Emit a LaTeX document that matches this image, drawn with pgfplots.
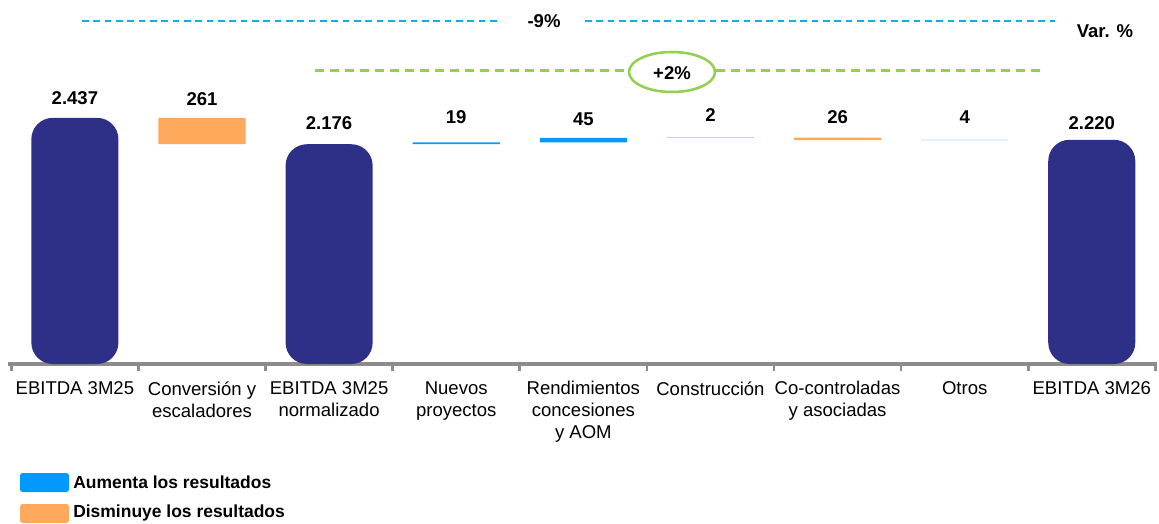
\documentclass[border=0pt]{standalone}
\usepackage{pgfplots}
\pgfplotsset{compat=1.18}
\usepackage{fontspec}
\setmainfont{Liberation Sans}
\definecolor{navy}{RGB}{46,48,135}
\definecolor{orng}{RGB}{255,169,92}
\definecolor{blu}{RGB}{0,153,255}
\definecolor{cyn}{RGB}{0,176,240}
\definecolor{grn}{RGB}{146,208,80}
\definecolor{axgray}{RGB}{140,140,140}
\begin{document}
\begin{tikzpicture}
\useasboundingbox (0pt,0pt) rectangle (869.25pt,-393pt);
% main axis: totals
\begin{axis}[
  at={(8.5pt,-273pt)}, anchor=south west,
  width=858pt, height=273pt, scale only axis,
  xmin=-0.5, xmax=8.5, ymin=0, ymax=3604,
  axis x line=bottom, axis y line=none,
  x axis line style={-, axgray, line width=3pt, shorten <=-2.25pt, shorten >=-1.5pt},
  xtick={0,...,8},
  xticklabels={EBITDA 3M25, {Conversión y\\escaladores}, {EBITDA 3M25\\normalizado}, {Nuevos\\proyectos}, {Rendimientos\\concesiones\\y AOM}, Construcción, {Co-controladas\\y asociadas}, Otros, EBITDA 3M26},
  major tick length=0pt,
  minor xtick={-0.5,0.5,...,8.5},
  minor tick length=5pt,
  tick align=outside,
  minor tick style={axgray, line width=2pt},
  xticklabel style={font=\fontsize{13.9}{16.5}\selectfont, align=center, anchor=north, yshift=-9.5pt},
  clip=false,
]
\addplot[ybar, bar width=0.685, bar shift=0pt, draw=none, fill=navy, rounded corners=16pt]
  coordinates {(0,2437) (2,2176) (8,2220)};
\addplot[draw=none, mark=none, nodes near coords, point meta=explicit symbolic,
  nodes near coords style={font=\bfseries\fontsize{13.9}{16}\selectfont, anchor=center, inner sep=0pt, text=black}]
  table[meta=lab, row sep=\\] {
  x y lab\\
  0 2634 2.437\\
  1 2624 261\\
  2 2386 2.176\\
  3 2446 19\\
  4 2426 45\\
  5 2465 2\\
  6 2446 26\\
  7 2446 4\\
  8 2386 2.220\\
};
\end{axis}
% floating changes
\begin{axis}[
  at={(8.5pt,-273pt)}, anchor=south west,
  width=858pt, height=273pt, scale only axis,
  xmin=-0.5, xmax=8.5, ymin=0, ymax=3604,
  hide axis, ybar stacked, bar width=0.685,
]
\addplot[draw=none, fill=none] coordinates {(1,2176) (3,2176) (4,2195) (5,2240) (6,2216) (7,2216)};
\addplot[draw=none, fill=orng] coordinates {(1,261) (3,0) (4,0) (5,0) (6,26) (7,0)};
\addplot[draw=none, fill=blu] coordinates {(1,0) (3,19) (4,45) (5,2) (6,0) (7,4)};
\end{axis}
\begin{scope}[x=0.75pt,y=-0.75pt]
% variation annotations
\draw[cyn, line width=1.5pt, dash pattern=on 5pt off 3.5pt] (82,21) -- (497,21);
\draw[cyn, line width=1.5pt, dash pattern=on 5pt off 3.5pt] (585,21) -- (1055,21);
\node[font=\bfseries\fontsize{13.9}{16}\selectfont] at (544,21) {-9\%};
\node[font=\bfseries\fontsize{13.9}{16}\selectfont] at (1105,31) {Var. \%};
\draw[grn, line width=2.25pt, dash pattern=on 6.75pt off 4.5pt] (315,71) -- (628,71);
\draw[grn, line width=2.25pt, dash pattern=on 6.75pt off 4.5pt] (716,71) -- (1045,71);
\draw[grn, line width=1.9pt] (672,72) ellipse [x radius=43, y radius=20];
\node[font=\bfseries\fontsize{13.9}{16}\selectfont] at (672,73) {+2\%};
% legend
\fill[blu, rounded corners=2pt] (20,473) rectangle (69,492);
\node[anchor=west, inner sep=0pt, font=\bfseries\fontsize{13.1}{15}\selectfont] at (73,482) {Aumenta los resultados};
\fill[orng, rounded corners=2pt] (20,504) rectangle (69,523);
\node[anchor=west, inner sep=0pt, font=\bfseries\fontsize{13.1}{15}\selectfont] at (73,513) {Disminuye los resultados};
\end{scope}
\end{tikzpicture}
\end{document}
